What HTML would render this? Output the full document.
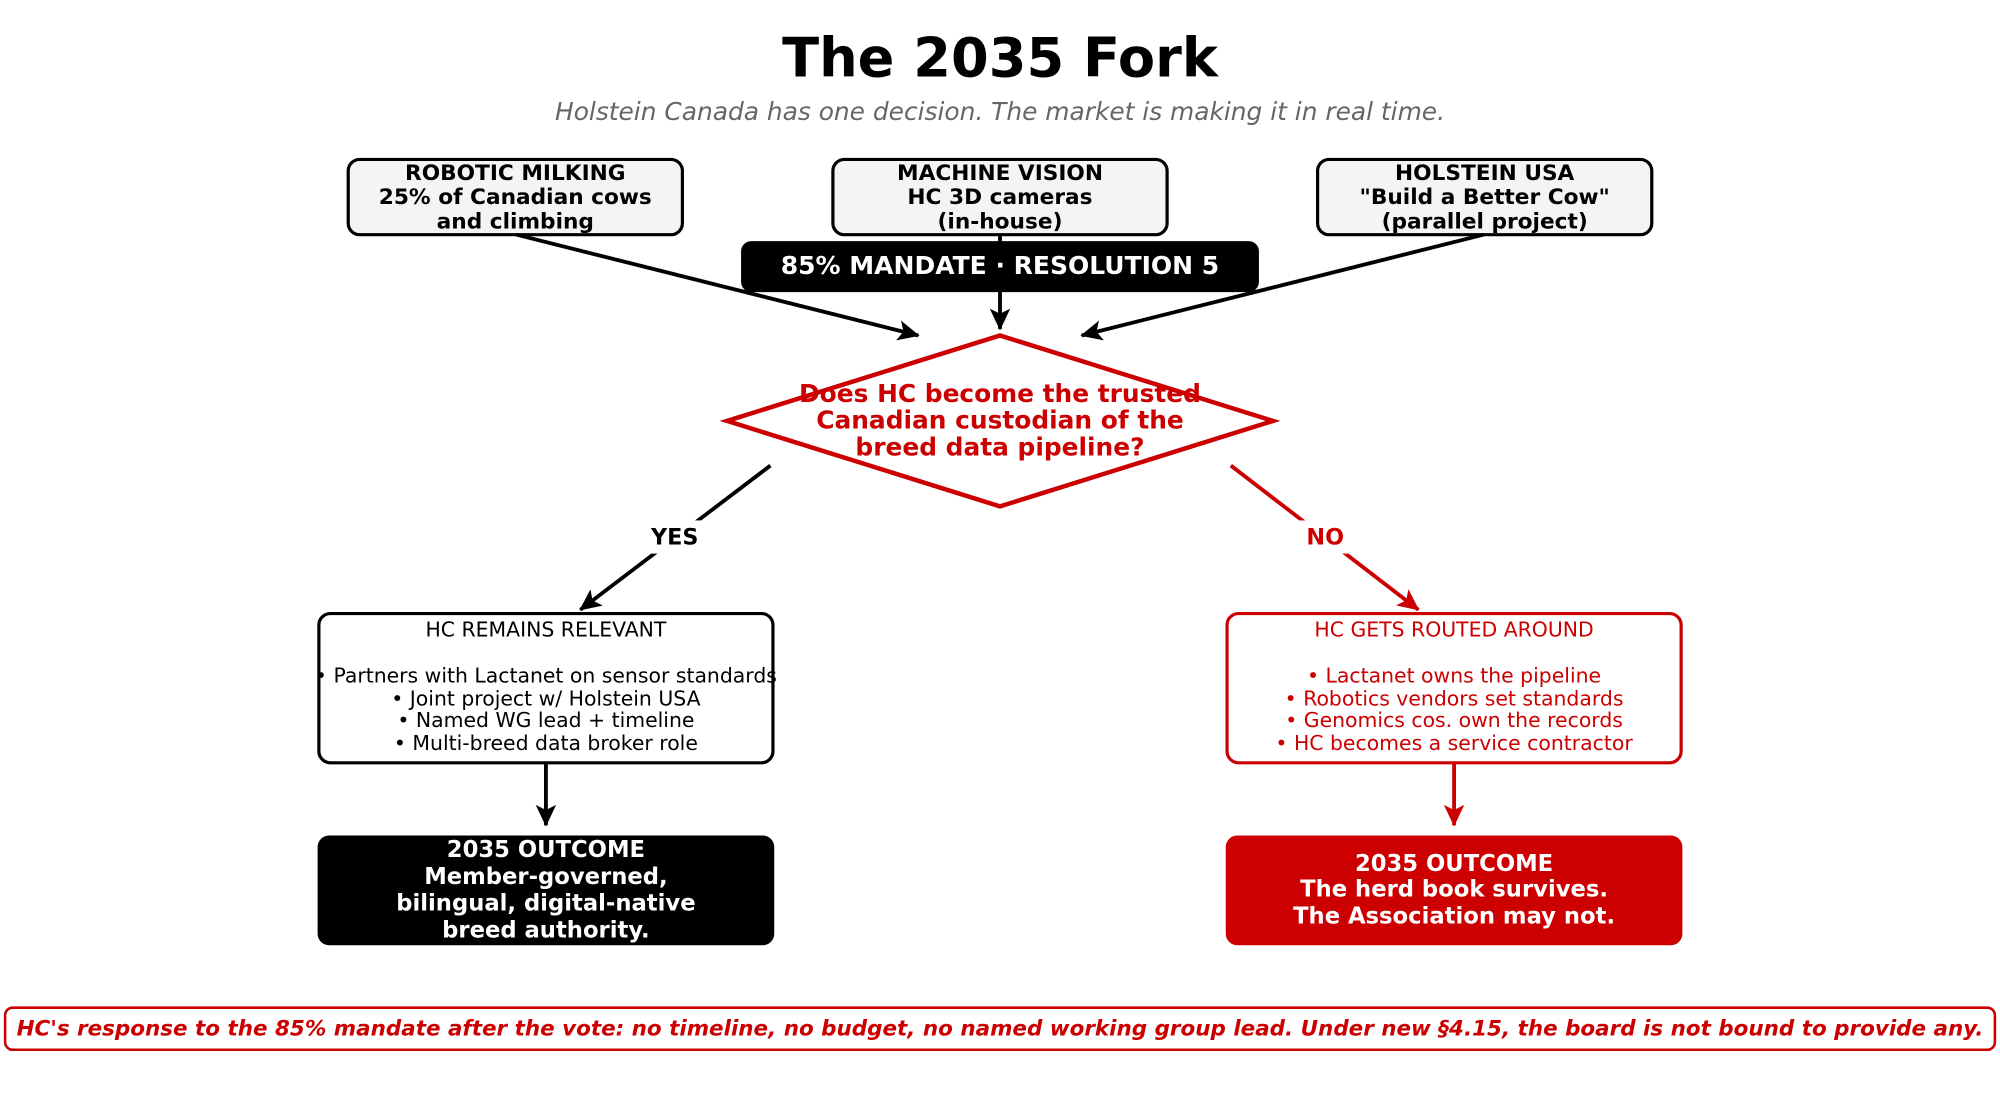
<!DOCTYPE html>
<html><head><meta charset="utf-8"><style>
html,body{margin:0;padding:0;background:#fff;}
svg{display:block;}
text{font-family:"DejaVu Sans","Liberation Sans",sans-serif;}
</style></head><body>
<svg width="2000" height="1098" viewBox="0 0 1568 860.8" preserveAspectRatio="none" xmlns="http://www.w3.org/2000/svg">
<defs>
<marker id="ab" markerWidth="18" markerHeight="16" refX="16" refY="8" orient="auto" markerUnits="userSpaceOnUse"><path d="M0,0 L17,8 L0,16 L4,8 Z" fill="#000"/></marker>
<marker id="ar" markerWidth="18" markerHeight="16" refX="16" refY="8" orient="auto" markerUnits="userSpaceOnUse"><path d="M0,0 L17,8 L0,16 L4,8 Z" fill="#cc0000"/></marker>
</defs>
<text x="784" y="60" font-size="42.5" font-weight="bold" text-anchor="middle">The 2035 Fork</text>
<text x="784" y="94" font-size="19.5" font-style="italic" fill="#666" text-anchor="middle">Holstein Canada has one decision. The market is making it in real time.</text>

<g stroke="#000" stroke-width="2.5" fill="#f4f4f4">
<rect x="273" y="125" width="262" height="59" rx="9"/>
<rect x="653" y="125" width="262" height="59" rx="9"/>
<rect x="1033" y="125" width="262" height="59" rx="9"/>
</g>
<g font-size="17" font-weight="bold" text-anchor="middle">
<text x="404" y="141">ROBOTIC MILKING</text><text x="404" y="160">25% of Canadian cows</text><text x="404" y="179">and climbing</text>
<text x="784" y="141">MACHINE VISION</text><text x="784" y="160">HC 3D cameras</text><text x="784" y="179">(in-house)</text>
<text x="1164" y="141">HOLSTEIN USA</text><text x="1164" y="160">"Build a Better Cow"</text><text x="1164" y="179">(parallel project)</text>
</g>

<g stroke="#000" stroke-width="3" fill="none">
<line x1="405" y1="184" x2="720" y2="263" marker-end="url(#ab)"/>
<line x1="784" y1="184" x2="784" y2="258" marker-end="url(#ab)"/>
<line x1="1163" y1="184" x2="848" y2="263" marker-end="url(#ab)"/>
</g>
<rect x="581" y="189" width="406" height="40" rx="8" fill="#000"/>
<text x="784" y="215" font-size="19.6" font-weight="bold" fill="#fff" text-anchor="middle">85% MANDATE · RESOLUTION 5</text>

<polygon points="784,263 998,330 784,397 570,330" fill="#fff" stroke="#cc0000" stroke-width="3.5"/>
<g font-size="19.5" font-weight="bold" fill="#cc0000" text-anchor="middle">
<text x="784" y="315">Does HC become the trusted</text>
<text x="784" y="336">Canadian custodian of the</text>
<text x="784" y="357">breed data pipeline?</text>
</g>

<line x1="604" y1="365" x2="455" y2="478" stroke="#000" stroke-width="3" marker-end="url(#ab)"/>
<line x1="965" y1="365" x2="1112" y2="478" stroke="#cc0000" stroke-width="3" marker-end="url(#ar)"/>
<rect x="505" y="408" width="48" height="26" fill="#fff"/>
<rect x="1018" y="408" width="42" height="26" fill="#fff"/>
<text x="529" y="427" font-size="17.5" font-weight="bold" text-anchor="middle">YES</text>
<text x="1039" y="427" font-size="17.5" font-weight="bold" fill="#cc0000" text-anchor="middle">NO</text>

<rect x="250" y="481" width="356" height="117" rx="9" fill="#fff" stroke="#000" stroke-width="2.5"/>
<rect x="962" y="481" width="356" height="117" rx="9" fill="#fff" stroke="#cc0000" stroke-width="2.5"/>
<g font-size="16" text-anchor="middle">
<text x="428" y="499">HC REMAINS RELEVANT</text>
<text x="428" y="535">• Partners with Lactanet on sensor standards</text>
<text x="428" y="553">• Joint project w/ Holstein USA</text>
<text x="428" y="570">• Named WG lead + timeline</text>
<text x="428" y="588">• Multi-breed data broker role</text>
</g>
<g font-size="16" text-anchor="middle" fill="#cc0000">
<text x="1140" y="499">HC GETS ROUTED AROUND</text>
<text x="1140" y="535">• Lactanet owns the pipeline</text>
<text x="1140" y="553">• Robotics vendors set standards</text>
<text x="1140" y="570">• Genomics cos. own the records</text>
<text x="1140" y="588">• HC becomes a service contractor</text>
</g>

<line x1="428" y1="598" x2="428" y2="647" stroke="#000" stroke-width="3" marker-end="url(#ab)"/>
<line x1="1140" y1="598" x2="1140" y2="647" stroke="#cc0000" stroke-width="3" marker-end="url(#ar)"/>

<rect x="249" y="655" width="358" height="86" rx="9" fill="#000"/>
<rect x="961" y="655" width="358" height="86" rx="9" fill="#cc0000"/>
<g font-size="17.8" font-weight="bold" fill="#fff" text-anchor="middle">
<text x="428" y="672">2035 OUTCOME</text>
<text x="428" y="693">Member-governed,</text>
<text x="428" y="714">bilingual, digital-native</text>
<text x="428" y="735">breed authority.</text>
<text x="1140" y="683">2035 OUTCOME</text>
<text x="1140" y="703">The herd book survives.</text>
<text x="1140" y="724">The Association may not.</text>
</g>

<rect x="4" y="790" width="1560" height="33" rx="6" fill="#fff" stroke="#cc0000" stroke-width="2"/>
<text x="784" y="812" font-size="16.5" font-weight="bold" font-style="italic" fill="#cc0000" text-anchor="middle" textLength="1542" lengthAdjust="spacingAndGlyphs">HC's response to the 85% mandate after the vote: no timeline, no budget, no named working group lead. Under new §4.15, the board is not bound to provide any.</text>
</svg>
</body></html>
